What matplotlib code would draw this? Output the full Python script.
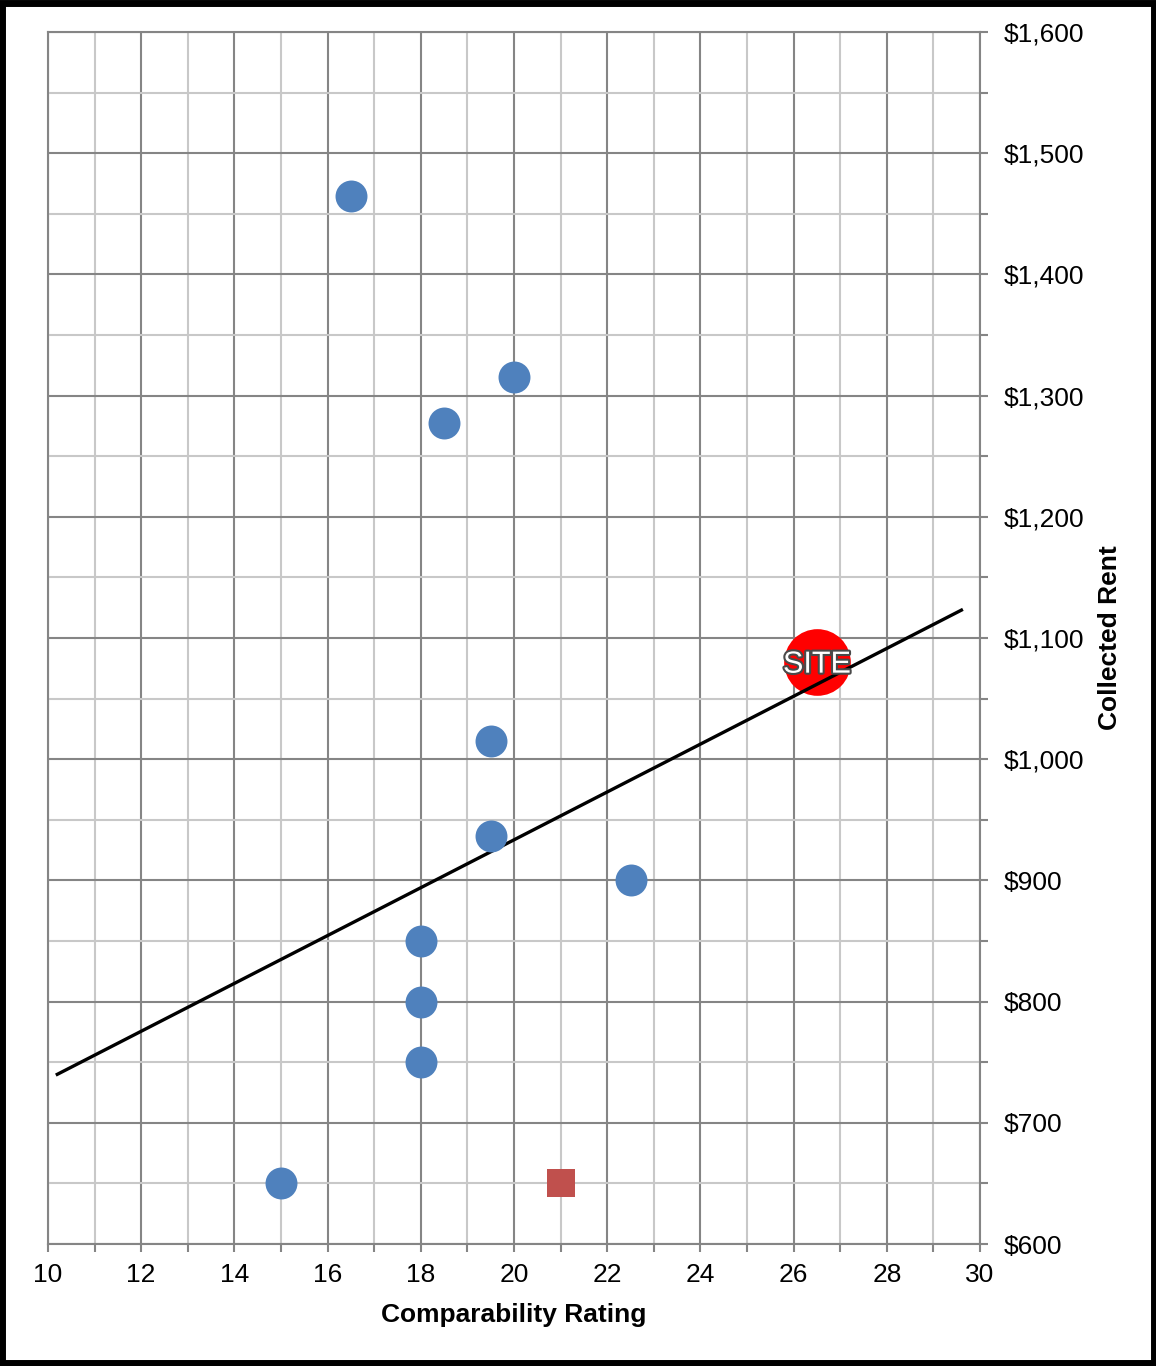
import matplotlib
matplotlib.use("Agg")
import matplotlib.pyplot as plt
import matplotlib.patheffects as pe
from matplotlib.ticker import MultipleLocator, FuncFormatter

plt.rcParams["font.family"] = ["Liberation Sans", "DejaVu Sans"]

# comparable properties: rating vs collected rent
comp_rating = [16.5, 20, 18.5, 19.5, 19.5, 22.5, 18, 18, 18, 15]
comp_rent = [1465, 1315, 1277, 1015, 937, 900, 850, 800, 750, 650]

# second series (square marker)
other_rating = [21]
other_rent = [650]

# subject site
site_rating = 26.5
site_rent = 1080

# trend line ends
trend_x = [10.2, 29.6]
trend_y = [740, 1123]

fig = plt.figure(figsize=(11.56, 13.66), dpi=100)
ax = fig.add_axes([0.0415, 0.0893, 0.8063, 0.8873])

major_c = "#858585"
minor_c = "#c8c8c8"

ax.set_xlim(10, 30)
ax.set_ylim(600, 1600)
ax.xaxis.set_major_locator(MultipleLocator(2))
ax.xaxis.set_minor_locator(MultipleLocator(1))
ax.yaxis.set_major_locator(MultipleLocator(100))
ax.yaxis.set_minor_locator(MultipleLocator(50))
ax.yaxis.set_major_formatter(FuncFormatter(lambda v, p: f"${v:,.0f}"))

ax.grid(which="major", color=major_c, linewidth=1.5, zorder=0)
ax.grid(which="minor", color=minor_c, linewidth=1.5, zorder=0)
ax.set_axisbelow(True)

ax.yaxis.tick_right()
ax.yaxis.set_label_position("right")
ax.tick_params(which="both", colors=major_c, width=1.5, length=6, labelsize=19,
               labelcolor="black")
ax.tick_params(axis="y", which="both", pad=11)
ax.tick_params(axis="x", which="both", pad=8)
for s in ax.spines.values():
    s.set_color(major_c)
    s.set_linewidth(1.5)

ax.plot(trend_x, trend_y, color="black", linewidth=2.4, zorder=3)

ax.scatter(comp_rating, comp_rent, s=23 ** 2, color="#4f81bd", zorder=4,
           linewidths=0)
ax.scatter(other_rating, other_rent, s=20 ** 2, marker="s", color="#c0504d",
           zorder=4, linewidths=0)

ax.scatter([site_rating], [site_rent], s=48 ** 2, color="#ff0000", zorder=2,
           linewidths=0)
ax.text(site_rating, site_rent - 2, "SITE", ha="center", va="center", fontsize=22,
        color="white", zorder=5,
        path_effects=[pe.withStroke(linewidth=3, foreground="#4a4a4a")])

ax.set_xlabel("Comparability Rating", fontsize=19, fontweight="bold", labelpad=11)
ax.set_ylabel("Collected Rent", fontsize=19, fontweight="bold", labelpad=10)

# frame around the whole figure
fig.patches.append(plt.Rectangle((0.002, 0.002), 0.996, 0.996, transform=fig.transFigure,
                                 fill=False, edgecolor="black", linewidth=5))

fig.savefig("out.png", dpi=100)
